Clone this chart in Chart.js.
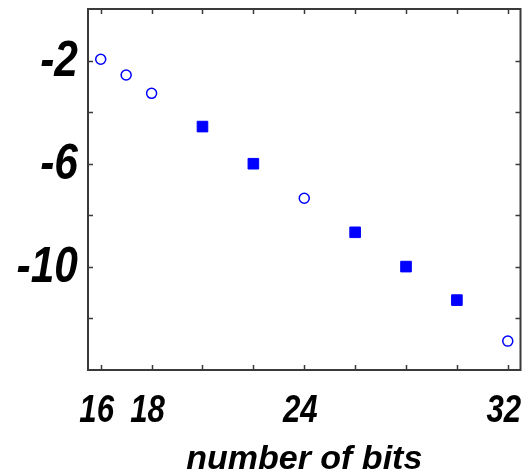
<!DOCTYPE html>
<html>
<head>
<meta charset="utf-8">
<title>number of bits</title>
<script src="https://cdn.jsdelivr.net/npm/chart.js@4/dist/chart.umd.min.js"></script>
<style>
  html, body { margin: 0; padding: 0; background: #fff; }
  #wrap { width: 529px; height: 471px; }
</style>
</head>
<body>
<div id="wrap"><canvas id="bitsChart"></canvas></div>
<script>
// values
const circleBits = [16, 17, 18, 24, 32];
const circleValues = [-1.95, -2.56, -3.27, -7.34, -12.88];
const squareBits = [20, 22, 26, 28, 30];
const squareValues = [-4.56, -6.0, -8.66, -9.99, -11.29];

// axis ticks (marks) and the ones that carry a label
const xTicks = [16, 18, 20, 22, 24, 26, 28, 30, 32];
const xLabels = [16, 18, 24, 32];
const yTicks = [-2, -4, -6, -8, -10, -12];
const yLabels = [-2, -6, -10];

const blue = '#0000ff';
const frameColor = '#3a3a3a';

function toPoints(xs, ys) {
    return xs.map((x, i) => ({ x: x, y: ys[i] }));
}

// text squeezed horizontally, like the condensed labels of the original
function squeezedText(ctx, text, x, y, align, sx) {
    ctx.save();
    ctx.translate(x, y);
    ctx.scale(sx, 1);
    ctx.textAlign = align;
    ctx.textBaseline = 'alphabetic';
    ctx.fillText(text, 0, 0);
    ctx.restore();
}

// frame, inward tick marks on all four sides, and the tick labels
const framePlugin = {
    id: 'frame',
    afterDatasetsDraw(chart) {
        const { ctx, chartArea: a, scales } = chart;
        const len = 5;
        ctx.save();
        ctx.strokeStyle = frameColor;
        ctx.lineWidth = 1.5;
        ctx.beginPath();
        xTicks.forEach(v => {
            const px = Math.round(scales.x.getPixelForValue(v)) + 0.5;
            ctx.moveTo(px, a.bottom); ctx.lineTo(px, a.bottom - len);
            ctx.moveTo(px, a.top); ctx.lineTo(px, a.top + len);
        });
        yTicks.forEach(v => {
            const py = Math.round(scales.y.getPixelForValue(v)) + 0.5;
            ctx.moveTo(a.left, py); ctx.lineTo(a.left + len, py);
            ctx.moveTo(a.right, py); ctx.lineTo(a.right - len, py);
        });
        ctx.stroke();
        ctx.lineWidth = 2;
        ctx.strokeRect(a.left, a.top, a.right - a.left, a.bottom - a.top);

        ctx.fillStyle = '#000';
        ctx.font = "italic bold 39px 'Liberation Sans', Arial, sans-serif";
        xLabels.forEach(v => {
            squeezedText(ctx, String(v), scales.x.getPixelForValue(v) - 4, a.bottom + 52, 'center', 0.8);
        });
        ctx.font = "italic bold 50px 'Liberation Sans', Arial, sans-serif";
        yLabels.forEach(v => {
            squeezedText(ctx, String(v), a.left - 10, scales.y.getPixelForValue(v) + 15, 'right', 0.85);
        });
        ctx.restore();
    }
};

new Chart(document.getElementById('bitsChart'), {
    type: 'scatter',
    data: {
        datasets: [
            {
                label: 'circles',
                data: toPoints(circleBits, circleValues),
                pointStyle: 'circle',
                pointRadius: 5,
                pointBorderWidth: 1.5,
                borderColor: blue,
                backgroundColor: 'rgba(0,0,0,0)'
            },
            {
                label: 'squares',
                data: toPoints(squareBits, squareValues),
                pointStyle: 'rect',
                pointRadius: 7.5,
                pointBorderWidth: 1,
                borderColor: blue,
                backgroundColor: blue
            }
        ]
    },
    options: {
        responsive: true,
        maintainAspectRatio: false,
        animation: false,
        layout: { padding: { top: 9, right: 7, left: 0, bottom: 0 } },
        plugins: {
            legend: { display: false },
            tooltip: { enabled: false }
        },
        scales: {
            x: {
                type: 'linear',
                min: 15.5,
                max: 32.5,
                grid: { display: false, drawTicks: false },
                border: { display: false },
                ticks: { display: false },
                afterBuildTicks: scale => {
                    scale.ticks = xTicks.map(v => ({ value: v }));
                },
                afterFit: scale => {
                    scale.height = 101;
                    scale.paddingLeft = 0;
                    scale.paddingRight = 0;
                },
                title: {
                    display: true,
                    text: 'number of bits',
                    color: '#000',
                    padding: 0,
                    font: { family: "'Liberation Sans', Arial, sans-serif", size: 34, style: 'italic', weight: 'bold', lineHeight: 0.65 }
                }
            },
            y: {
                type: 'linear',
                min: -14,
                max: 0,
                grid: { display: false, drawTicks: false },
                border: { display: false },
                ticks: { display: false },
                afterBuildTicks: scale => {
                    scale.ticks = yTicks.map(v => ({ value: v }));
                },
                afterFit: scale => {
                    scale.width = 88;
                    scale.paddingTop = 0;
                    scale.paddingBottom = 0;
                }
            }
        }
    },
    plugins: [framePlugin]
});
</script>
</body>
</html>
